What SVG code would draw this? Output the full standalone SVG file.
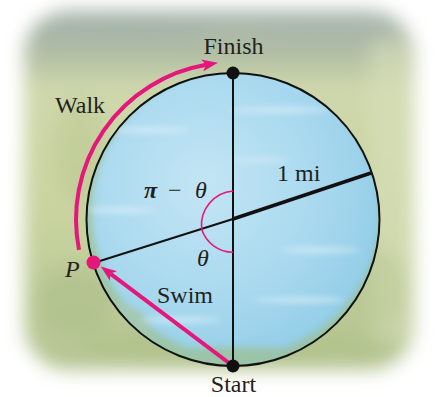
<svg xmlns="http://www.w3.org/2000/svg" width="443" height="397" viewBox="0 0 443 397">
<style>
.lbl{font-family:"Liberation Serif","Times New Roman",serif;font-size:24px;fill:#231f20}
.ink{stroke:#111;fill:none}
.pink{stroke:#e5177b;fill:none}
</style>
<defs>
<linearGradient id="grass" x1="0" y1="0" x2="0" y2="1">
<stop offset="0" stop-color="#aebbb2"/>
<stop offset="0.1" stop-color="#acb9a3"/>
<stop offset="0.22" stop-color="#cfd8ac"/>
<stop offset="0.55" stop-color="#c9d4a0"/>
<stop offset="1" stop-color="#b4c492"/>
</linearGradient>
<radialGradient id="water" cx="0.4" cy="0.38" r="0.65">
<stop offset="0" stop-color="#c3e5f4"/>
<stop offset="0.6" stop-color="#a9d9ef"/>
<stop offset="1" stop-color="#92cde7"/>
</radialGradient>
<filter id="blur8" x="-20%" y="-20%" width="140%" height="140%"><feGaussianBlur stdDeviation="9"/></filter>
<filter id="blur3" x="-20%" y="-20%" width="140%" height="140%"><feGaussianBlur stdDeviation="3"/></filter>
<clipPath id="lake"><circle cx="233" cy="219.5" r="146.5"/></clipPath>
<marker id="arr" viewBox="0 0 16 12" refX="4" refY="6" markerWidth="16" markerHeight="12" markerUnits="userSpaceOnUse" orient="auto">
<path d="M0,0 L16,6 L0,12 L4,6 Z" fill="#e5177b"/>
</marker>
</defs>

<g id="background">
<rect width="443" height="397" fill="#fff"/>
<g filter="url(#blur8)">
<rect x="24" y="10" width="390" height="360" rx="45" fill="url(#grass)"/>
<rect x="370" y="40" width="40" height="300" fill="#d8dfba" opacity="0.6"/>
<ellipse cx="120" cy="30" rx="90" ry="12" fill="#a2b2a9" opacity="0.6"/>
<ellipse cx="330" cy="28" rx="70" ry="10" fill="#a6b6ad" opacity="0.6"/>
<ellipse cx="230" cy="22" rx="60" ry="8" fill="#a9b8ae" opacity="0.5"/>
<ellipse cx="75" cy="300" rx="40" ry="35" fill="#adbe8b" opacity="0.6"/>
<ellipse cx="370" cy="290" rx="35" ry="45" fill="#b6c691" opacity="0.5"/>
<ellipse cx="233" cy="345" rx="150" ry="22" fill="#afc189" opacity="0.55"/>
<ellipse cx="80" cy="150" rx="25" ry="55" fill="#b9c78f" opacity="0.5"/>
</g>
</g>

<g id="lake-water">
<circle cx="233" cy="219.5" r="146.5" fill="url(#water)"/>
<g clip-path="url(#lake)">
<g filter="url(#blur3)" opacity="0.7">
<circle cx="236" cy="212" r="150" fill="none" stroke="#9fbf8a" stroke-width="12"/>
<ellipse cx="233" cy="375" rx="150" ry="28" fill="#9dbf8e"/>
<ellipse cx="110" cy="330" rx="40" ry="28" fill="#a6c49a"/>
</g>
<g filter="url(#blur3)" fill="#e4f3fa" opacity="0.6">
<ellipse cx="150" cy="130" rx="40" ry="3"/>
<ellipse cx="280" cy="110" rx="50" ry="3"/>
<ellipse cx="120" cy="210" rx="35" ry="3"/>
<ellipse cx="320" cy="250" rx="40" ry="3"/>
<ellipse cx="300" cy="300" rx="45" ry="3"/>
<ellipse cx="180" cy="320" rx="40" ry="3"/>
<ellipse cx="260" cy="160" rx="30" ry="2"/>
</g>
</g>
<circle cx="233" cy="219.5" r="146.5" class="ink" stroke-width="2"/>
</g>

<g id="connectors">
<line x1="233" y1="73" x2="233" y2="366" class="ink" stroke-width="2"/>
<line x1="93.5" y1="263" x2="233" y2="219" class="ink" stroke-width="2"/>
<line x1="233" y1="219" x2="371" y2="173" class="ink" stroke-width="3.5"/>
<path d="M233,191 A34.3,34.3 0 0 0 201.7,229.3" class="pink" stroke-width="1.6"/>
<path d="M201.7,229.3 A33,33 0 0 0 233,252.3" class="pink" stroke-width="1.6"/>
<path id="walk" d="M79,249.8 A157,157 0 0 1 206.1,64.8" class="pink" stroke-width="4" marker-end="url(#arr)"/>
<line id="swim" x1="233" y1="366" x2="110.3" y2="273.6" class="pink" stroke-width="4" marker-end="url(#arr)"/>
</g>

<g id="node-finish">
<circle cx="233" cy="73" r="6.5" fill="#111"/>
<text class="lbl" x="233.5" y="54" text-anchor="middle">Finish</text>
</g>
<g id="node-start">
<circle cx="233" cy="366" r="6.5" fill="#111"/>
<text class="lbl" x="233.5" y="392" text-anchor="middle">Start</text>
</g>
<g id="node-p">
<circle cx="93.5" cy="262.5" r="7" fill="#e5177b"/>
<text class="lbl" x="65" y="277" font-style="italic">P</text>
</g>
<g id="labels">
<text class="lbl" x="55" y="113">Walk</text>
<text class="lbl" x="157" y="303">Swim</text>
<text class="lbl" x="277" y="181">1 mi</text>
<text class="lbl" y="198"><tspan x="144" font-weight="bold" font-style="italic">π</tspan><tspan x="168">−</tspan><tspan x="195" font-style="italic">θ</tspan></text>
<text class="lbl" x="197" y="266" font-style="italic">θ</text>
</g>
</svg>
